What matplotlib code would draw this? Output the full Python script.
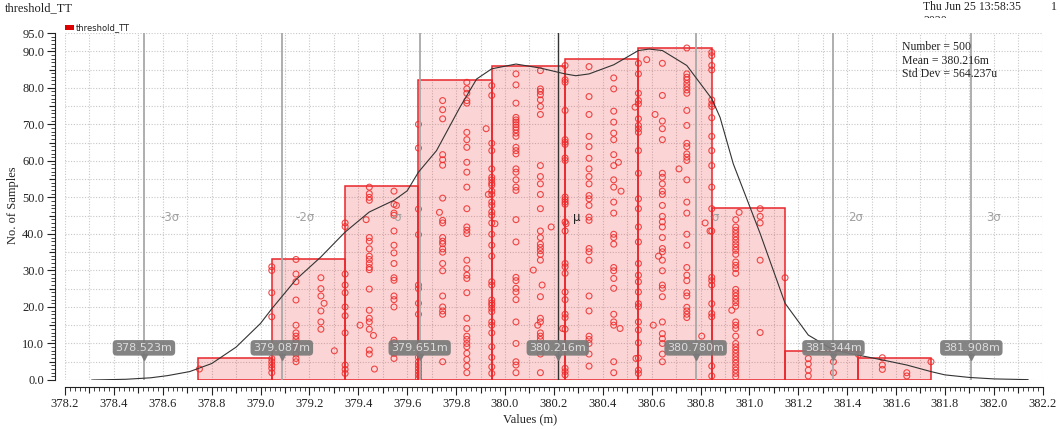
import matplotlib
matplotlib.use("Agg")
import matplotlib.pyplot as plt
from matplotlib.ticker import MultipleLocator, FuncFormatter
from matplotlib.transforms import Bbox
import matplotlib.patches as mpatches

# ---------------- data ----------------
bin_edges = [378.745, 379.045, 379.345, 379.645, 379.945, 380.245,
             380.545, 380.845, 381.145, 381.445, 381.745]
counts = [6, 33, 53, 82, 86, 88, 91, 47, 8, 6]

sigma_values = [378.523, 379.087, 379.651, 380.216, 380.780, 381.344, 381.908]
sigma_names = ['-3σ', '-2σ', '-σ', 'μ', 'σ', '2σ', '3σ']
marker_labels = ['378.523m', '379.087m', '379.651m', '380.216m',
                 '380.780m', '381.344m', '381.908m']

curve_x = [378.31, 378.45, 378.55, 378.62, 378.71, 378.80, 378.90, 379.00, 379.046,
           379.145, 379.247, 379.346, 379.445, 379.546, 379.60, 379.646, 379.72,
           379.816, 379.884, 379.946, 380.045, 380.145, 380.246, 380.29, 380.344,
           380.445, 380.546, 380.59, 380.644, 380.744, 380.846, 380.88, 380.934,
           381.044, 381.146, 381.241, 381.344, 381.446, 381.544, 381.644, 381.743,
           381.80, 381.90, 382.00, 382.14]
curve_y = [0.0, 0.2, 0.6, 1.2, 2.3, 4.5, 9.0, 15.5, 19.5,
           27.5, 33.7, 40.5, 46.0, 49.2, 51.8, 56.9, 62.8,
           74.7, 82.4, 85.2, 86.5, 85.4, 83.8, 83.3, 83.8,
           86.3, 90.2, 90.6, 90.2, 86.1, 77.0, 71.9, 59.2,
           40.1, 21.0, 12.3, 8.2, 6.8, 5.5, 4.1, 2.3,
           1.4, 0.7, 0.3, 0.1]

# samples: columns of points sharing one value, plus scattered extra points
col_x = [378.75, 379.046, 379.145, 379.247, 379.346, 379.445, 379.546, 379.646,
         379.745, 379.844, 379.946, 380.045, 380.145, 380.246, 380.344, 380.445,
         380.546, 380.644, 380.744, 380.846, 380.944, 381.044, 381.241, 381.344,
         381.544, 381.644]
col_y = [
    [3.0],
    [31, 30, 23.9, 17.3, 5.9, 5.0, 4.1, 3.2, 2.0],
    [33, 29, 26.9, 21.9, 15.0, 12.9, 12.0, 11.1, 10.2, 9.1, 7.1, 5.9, 5.0],
    [28, 25, 23, 18.9, 15.9, 13.9],
    [43, 42, 29, 26, 23.9, 20, 17.6, 12.9, 4.1, 2.9, 1.8],
    [52.8, 51, 50, 49.2, 39, 38, 35.9, 33.9, 33, 31.9, 30.8, 30.2, 24.9, 19.1,
     16.9, 15.9, 13.9, 8.2, 7.1],
    [51.7, 48.1, 45.7, 45.1, 40.8, 36.9, 34.8, 31.9, 28, 27.3, 23, 22, 20, 10.9,
     10.2, 7.3, 5.9],
    [70.0, 63.5, 46.8, 39.8, 26, 25, 21, 18, 6.2, 5, 4.1, 3.2, 2.3, 1.4, 0.5],
    [76.5, 74.0, 71.5, 61.7, 60.3, 58.8, 49.8, 43.7, 43, 39, 38, 37.3, 35.9, 35,
     31.9, 29.9, 23, 20, 18.9, 18, 5],
    [81.5, 79.7, 78.5, 76.5, 75.8, 67.8, 65.8, 63.7, 59.6, 56.9, 52.8, 46.9, 41.9,
     41, 40.1, 32.8, 30.5, 28.7, 27.8, 23.9, 16.9, 14.1, 12, 11.1, 10, 9.1, 7.3,
     5.6, 3.8, 2.0],
    [80.6, 77.9, 64.8, 62.8, 57.8, 55.5, 54.8, 53.9, 53.3, 51.7, 50.8, 48.7, 47.8,
     46, 45.1, 43, 39.9, 36.9, 33.9, 26.9, 26, 21.9, 21.1, 20.5, 19.6, 18.7, 15.9,
     15, 12.9, 9.1, 6.2, 3.6, 1.8],
    [83.8, 80.8, 75.8, 71.9, 71.2, 70.6, 69.9, 69.2, 68.5, 67.6, 66.7, 63.7, 62.8,
     61.9, 57.8, 56.9, 54.8, 52.8, 51.9, 43.9, 37.8, 28.1, 27.2, 25.1, 24.1, 22,
     15.9, 10, 5, 4.1, 2],
    [84.7, 79.7, 79, 78.1, 76.7, 74.9, 72.7, 58.7, 55.7, 53.7, 50.8, 46.9, 40.8,
     39, 37.2, 36.3, 35.4, 34.4, 32.8, 22.8, 16.9, 15.9, 12.9, 12, 11.1, 7.1, 2],
    [86.1, 82.2, 81.5, 73.8, 65.8, 65.1, 64.5, 60.8, 60.1, 50.1, 49.4, 48.7, 48.1,
     43.3, 40.8, 31.9, 31, 29.2, 24.1, 22, 18, 17.1, 13.9, 8.7, 3.2, 2.3, 1.4],
    [85.8, 77.6, 72.7, 66.7, 63.9, 60.7, 57.8, 55.7, 53.7, 50.5, 49.6, 47.8, 44.6,
     43.7, 36, 35.1, 32.8, 23, 18.9, 12, 11.1, 10, 7.1, 3.8],
    [82.7, 79.7, 73.6, 70.6, 67.6, 65.8, 61.7, 58.7, 54.8, 52.8, 48.7, 45.7, 39.9,
     39, 37.2, 30.8, 29.9, 27.8, 25.1, 18, 15.9, 15, 5, 2],
    [86.7, 83.8, 78.5, 76.5, 75.6, 71.5, 69.7, 68.8, 67.8, 62.8, 56.6, 49.6, 46.9,
     41.9, 37.8, 31.9, 28.7, 26.9, 24.1, 20.9, 20.1, 15.9, 13.7, 10.2, 6, 2.7, 1.8],
    [86.7, 77.9, 70.9, 68.8, 65.8, 56.6, 55.5, 53.7, 51.7, 50.8, 47.8, 44.8, 43.3,
     41.9, 39, 36, 35.1, 32.8, 29.9, 26, 25.1, 22.8, 15.9, 12.7, 11.3, 10, 7.1, 5],
    [90.9, 83.8, 82.9, 82.2, 81.2, 80.3, 79.4, 78.5, 73.8, 69.7, 64.8, 63.9, 61.9,
     61, 60.1, 54.8, 48.7, 45.7, 39.9, 36.9, 30.8, 28.7, 27.2, 23.9, 23, 19.9, 18.9,
     18, 17.1],
    [89.7, 88.8, 86.1, 84.9, 76.7, 75.6, 74.9, 71.8, 66.7, 62.8, 58.7, 52.8, 46.9,
     40.8, 28.1, 27.2, 26, 20.9, 18.2, 17.3, 3.8, 1.1],
    [43.9, 41.9, 41, 40.1, 39.2, 38.3, 37.3, 36.4, 35.5, 34.4, 32.3, 31.4, 30.5,
     29.2, 24.8, 23.9, 23, 22.1, 21.2, 20.2, 15.9, 15, 14.1, 12, 10, 9.1, 8.2, 7.3,
     6.4, 5.5, 4.6, 3.6, 2.7, 1.8, 0.9],
    [46.9, 44.8, 43, 32.8, 13],
    [5.9, 4.4, 2.7, 1.1],
    [8, 5, 2],
    [6.1, 4.1, 2.9],
    [2, 1.1],
]
extra_x = [379.26, 379.302, 379.407, 379.432, 379.462, 379.466, 379.556, 379.732,
           379.923, 379.932, 379.959, 380.116, 380.134, 380.152, 380.189, 380.236,
           380.25, 380.464, 380.475, 380.471, 380.532, 380.58, 380.614, 380.607,
           380.536, 380.628, 380.712, 380.805, 380.819, 380.839, 380.958, 380.928,
           381.146, 381.446, 381.743]
extra_y = [21, 8.0, 15, 43.9, 12.2, 3.0, 47.8, 45.9,
           68.8, 50.8, 42.8, 30.1, 15.0, 26, 41.9, 14.1,
           42.8, 59.6, 51.7, 14.1, 74.7, 87.7, 72.7, 15,
           5.9, 33.9, 57.8, 12, 43, 40.8, 45.9, 19.1,
           28, 7, 5]

n_samples = 500
mean_text = '380.216m'
std_text = '564.237u'

# ---------------- figure ----------------
W, H = 1060, 429
PT = 0.72  # points per pixel at 100 dpi
fig = plt.figure(figsize=(W / 100, H / 100), dpi=100)
ax_l, ax_r, ax_t, ax_b = 65, 1042.7, 33, 380
ax = fig.add_axes([ax_l / W, 1 - ax_b / H, (ax_r - ax_l) / W, (ax_b - ax_t) / H])

serif = 'Liberation Serif'
sans = 'DejaVu Sans'

ax.set_xlim(378.2, 382.2)
ax.set_ylim(0, 95)

# grid
ax.xaxis.set_major_locator(MultipleLocator(0.1))
ax.xaxis.set_minor_locator(MultipleLocator(0.02))
ax.yaxis.set_major_locator(MultipleLocator(5))
ax.yaxis.set_minor_locator(MultipleLocator(1))
ax.grid(True, which='major', color='#c8c8c8', linestyle=(0, (1, 1.5)), linewidth=0.8, zorder=0)
ax.set_axisbelow(True)

def xfmt(v, pos):
    k = round(v * 10)
    return f'{v:.1f}' if k % 2 == 0 else ''

def yfmt(v, pos):
    k = round(v)
    return f'{v:.1f}' if (k % 10 == 0 or k == 95) else ''

ax.xaxis.set_major_formatter(FuncFormatter(xfmt))
ax.yaxis.set_major_formatter(FuncFormatter(yfmt))

for s in ['top', 'right']:
    ax.spines[s].set_visible(False)
ax.spines['left'].set_position(('outward', 10 * PT))
ax.spines['bottom'].set_position(('outward', 7 * PT))
ax.spines['left'].set_color('#222222')
ax.spines['bottom'].set_color('#222222')

ax.tick_params(axis='both', which='major', direction='out', length=8 * PT, width=0.8,
               color='#222222', labelsize=9, labelcolor='#222222')
ax.tick_params(axis='both', which='minor', direction='out', length=4 * PT, width=0.6,
               color='#222222')
ax.tick_params(axis='x', which='major', pad=2)
ax.tick_params(axis='y', which='major', pad=2)
for lab in ax.get_xticklabels() + ax.get_yticklabels():
    lab.set_family(serif)

# histogram
widths = [bin_edges[i + 1] - bin_edges[i] for i in range(len(counts))]
ax.bar(bin_edges[:-1], counts, width=widths, align='edge',
       facecolor=(0.93, 0.1, 0.1, 0.18), edgecolor='#e8262b', linewidth=1.1, zorder=2)

# samples
sx, sy = [], []
for x, ys in zip(col_x, col_y):
    for y in ys:
        sx.append(x)
        sy.append(y)
sx += extra_x
sy += extra_y
ax.scatter(sx, sy, s=18, facecolors='none', edgecolors='#ee2a2a', linewidths=0.8,
           alpha=0.85, zorder=3)

# sigma lines
for name, v in zip(sigma_names, sigma_values):
    if name == 'μ':
        ax.axvline(v, color='#333333', linewidth=1.0, zorder=4)
    else:
        ax.axvline(v, color='#a8a8a8', linewidth=1.3, zorder=4)

# curve
ax.plot(curve_x, curve_y, color='#333333', linewidth=0.8, zorder=5)

# sigma labels
label_offsets = [0.107, 0.093, -0.096, 0.078, 0.08, 0.092, 0.09]
for name, v, off in zip(sigma_names, sigma_values, label_offsets):
    col = '#222222' if name == 'μ' else '#a0a0a0'
    ax.text(v + off, 44.5, name, ha='center', va='center', fontsize=8.5,
            family=sans, color=col, zorder=6)

# value markers
for v, lab in zip(sigma_values, marker_labels):
    ax.text(v, 8.8, lab, ha='center', va='center', fontsize=8, family=sans,
            color='#dcdcdc', zorder=7,
            bbox=dict(boxstyle='round,pad=0.25,rounding_size=0.35',
                      facecolor='#7a7a7a', edgecolor='none', alpha=0.92))
    ax.plot([v], [6.4], marker='v', markersize=5, color='#7a7a7a', alpha=0.92,
            zorder=7, clip_on=False)

# axis labels
ax.set_xlabel('Values (m)', family=serif, fontsize=9, color='#222222')
ax.xaxis.set_label_coords((530 - ax_l) / (ax_r - ax_l), -(419 - ax_b) / (ax_b - ax_t))
ax.xaxis.label.set_va('center')
ax.set_ylabel('No. of Samples', family=serif, fontsize=9, color='#222222')
ax.yaxis.set_label_coords((13 - ax_l) / (ax_r - ax_l), (ax_b - 205) / (ax_b - ax_t))
ax.yaxis.label.set_va('center')

# stats
stats = [f'Number = {n_samples}', f'Mean = {mean_text}', f'Std Dev = {std_text}']
for i, s in enumerate(stats):
    fig.text(902 / W, 1 - (47 + 13.5 * i) / H, s, family=serif, fontsize=8.5,
             color='#222222', va='center', ha='left')

# header texts
fig.text(5 / W, 1 - 8 / H, 'threshold_TT', family=serif, fontsize=9, color='#222222',
         va='center', ha='left')
fig.text(923 / W, 1 - 7 / H, 'Thu Jun 25 13:58:35', family=serif, fontsize=8.5,
         color='#222222', va='center', ha='left')
fig.text(1051 / W, 1 - 7 / H, '1', family=serif, fontsize=8.5, color='#222222',
         va='center', ha='left')
t2020 = fig.text(923 / W, 1 - 21 / H, '2020', family=serif, fontsize=8.5,
                 color='#222222', va='center', ha='left')
t2020.set_clip_box(Bbox.from_extents(0, H - 18, W, H))

# legend
fig.patches.append(mpatches.Rectangle((65 / W, 1 - 30 / H), 9 / W, 5 / H,
                                      transform=fig.transFigure, facecolor='#dd0000',
                                      edgecolor='none'))
fig.text(76 / W, 1 - 27.5 / H, 'threshold_TT', family=sans, fontsize=6,
         color='#222222', va='center', ha='left')

fig.canvas.draw()
# medium-length ticks on unlabelled majors
for t in ax.xaxis.get_major_ticks():
    if t.label1.get_text() == '':
        t.tick1line.set_markersize(6 * PT)
for t in ax.yaxis.get_major_ticks():
    if t.label1.get_text() == '':
        t.tick1line.set_markersize(6 * PT)

fig.savefig('out.png', dpi=100)
